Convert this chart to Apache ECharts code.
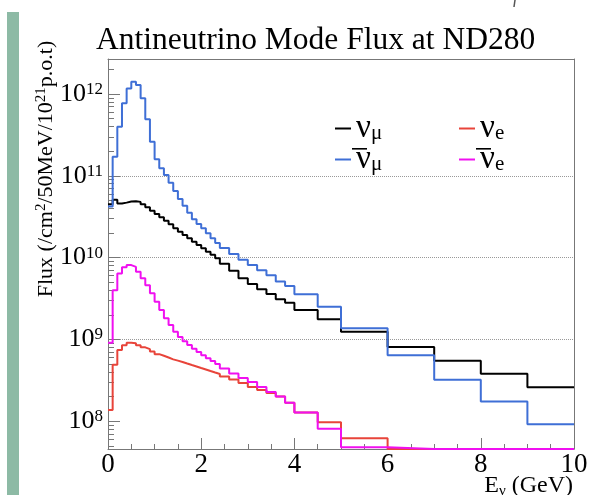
<!DOCTYPE html>
<html><head><meta charset="utf-8">
<script src="https://cdn.jsdelivr.net/npm/echarts@6/dist/echarts.min.js"></script>
<style>html,body{margin:0;padding:0;background:#fff}#c{width:591px;height:495px}</style>
</head><body><div id="c"></div>
<script>
// Bin edges in GeV
const binEdges = [0,0.1,0.2,0.3,0.4,0.5,0.6,0.7,0.8,0.9,1.0,1.1,1.2,1.3,1.4,1.5,1.6,1.7,1.8,1.9,2.0,2.1,2.2,2.3,2.4,
  2.6,2.8,3.0,3.2,3.4,3.6,3.8,4.0,4.5,5,6,7,8,9,10];
// Flux values per bin (/cm^2/50MeV/1e21 p.o.t)
const numuFlux = [4.5e10,5.1e10,4.6e10,4.7e10,4.85e10,4.9e10,4.8e10,4.5e10,4.12e10,3.74e10,3.41e10,3.11e10,2.83e10,2.55e10,2.28e10,
  2.07e10,1.89e10,1.72e10,1.56e10,1.43e10,1.30e10,1.18e10,1.08e10,9.8e9,8.4e9,6.9e9,5.6e9,4.75e9,4.1e9,3.6e9,3.1e9,2.8e9,
  2.29e9,1.76e9,1.24e9,8.1e8,5.5e8,3.8e8,2.6e8];
const antiNumuFlux = [4.2e10,1.71e11,3.98e11,7.7e11,1.17e12,1.41e12,1.29e12,8.9e11,4.9e11,2.61e11,1.59e11,1.24e11,1.02e11,8.2e10,6.5e10,
  5.2e10,4.3e10,3.54e10,2.94e10,2.58e10,2.28e10,1.98e10,1.72e10,1.51e10,1.31e10,1.11e10,9.4e9,8.1e9,7.0e9,6.1e9,5.1e9,4.5e9,
  3.56e9,2.5e9,1.37e9,6.4e8,3.2e8,1.74e8,9.2e7];
const nueFlux = [1.37e8,4.9e8,7.4e8,8.5e8,9.1e8,9.0e8,8.5e8,8.0e8,7.6e8,7.1e8,6.6e8,6.3e8,6.0e8,5.7e8,5.5e8,
  5.3e8,5.07e8,4.86e8,4.67e8,4.47e8,4.29e8,4.11e8,3.94e8,3.78e8,3.52e8,3.24e8,2.93e8,2.62e8,2.40e8,2.21e8,2.0e8,1.68e8,
  1.28e8,9.7e7,6.2e7,0,0,0,0];
const antiNueFlux = [9.1e8,4.0e9,6.4e9,7.6e9,8.1e9,7.7e9,6.7e9,5.6e9,4.6e9,3.66e9,2.89e9,2.29e9,1.81e9,1.50e9,1.24e9,
  1.07e9,9.5e8,8.55e8,7.7e8,7.0e8,6.4e8,5.9e8,5.45e8,5.0e8,4.4e8,3.83e8,3.37e8,3.01e8,2.62e8,2.27e8,2.0e8,1.68e8,
  1.28e8,8.1e7,4.8e7,0,0,0,0];
// Axis tick values
const xTickLabels = [0,2,4,6,8,10];
const yDecades = [1e8,1e9,1e10,1e11,1e12];
const seriesNames = ['numu','antinumu','nue','antinue'];

const FONT = 'Liberation Serif';
const yMin = 4.57e7, yMax = 2.68e12;
const yMinor = [];
[1e7,1e8,1e9,1e10,1e11,1e12].forEach(d => { for (let k = 2; k <= 9; k++) { const v = d * k; if (v > yMin && v < yMax) yMinor.push(v); } });

function steps(vals) {
  const pts = vals.map((v, i) => [binEdges[i], v > 0 ? v : yMin]);
  pts.push([binEdges[binEdges.length - 1], pts[pts.length - 1][1]]);
  return pts;
}
const legendText = {
  numu: '{n|\u03BD}{s|\u03BC}',
  antinumu: '{n|\u03BD}{s|\u03BC}',
  nue: '{n|\u03BD}{s|e}',
  antinue: '{n|\u03BD}{s|e}'
};
const legendRich = {
  n: {fontFamily: FONT, fontSize: 33, lineHeight: 30, color: '#000'},
  s: {fontFamily: FONT, fontSize: 21, lineHeight: 19, verticalAlign: 'bottom', color: '#000'}
};
const colors = {numu: '#000000', antinumu: '#3f6fd6', nue: '#e8443a', antinue: '#f010f0'};
const fluxes = {numu: numuFlux, antinumu: antiNumuFlux, nue: nueFlux, antinue: antiNueFlux};

const chart = echarts.init(document.getElementById('c'), null, {renderer: 'canvas', width: 591, height: 495});
const axisGray = '#777';
chart.setOption({
  animation: false,
  backgroundColor: '#fff',
  title: {
    text: 'Antineutrino Mode Flux at ND280', left: 91, top: 20,
    textStyle: {fontFamily: FONT, fontSize: 31.5, fontWeight: 'normal', color: '#000'}
  },
  grid: {left: 108, right: 17, top: 59, bottom: 46, containLabel: false},
  xAxis: [{
    type: 'value', min: 0, max: 10, interval: 2,
    axisLine: {show: true, onZero: false, lineStyle: {color: axisGray, width: 1}},
    axisTick: {show: true, inside: true, length: 11, lineStyle: {color: axisGray}},
    minorTick: {show: true, splitNumber: 4, length: 5, lineStyle: {color: axisGray}},
    axisLabel: {fontFamily: FONT, fontSize: 27, color: '#000', margin: 2,
      formatter: v => xTickLabels.indexOf(v) >= 0 ? String(v) : ''},
    splitLine: {show: false}
  }, {
    type: 'value', min: 0, max: 10, position: 'top',
    axisLine: {show: true, onZero: false, lineStyle: {color: axisGray, width: 1}},
    axisTick: {show: false}, axisLabel: {show: false}, splitLine: {show: false}
  }],
  yAxis: [{
    type: 'log', logBase: 10, min: yMin, max: yMax,
    axisLine: {show: true, onZero: false, lineStyle: {color: axisGray, width: 1}},
    axisTick: {show: true, inside: true, length: 12, customValues: yDecades, lineStyle: {color: axisGray}},
    axisLabel: {
      customValues: yDecades, margin: 5,
      formatter: v => '{b|10}{s|' + Math.round(Math.log10(v)) + '}',
      rich: {
        b: {fontFamily: FONT, fontSize: 26, lineHeight: 26, color: '#000'},
        s: {fontFamily: FONT, fontSize: 17, lineHeight: 16, verticalAlign: 'top', color: '#000'}
      }
    },
    splitLine: {show: true, showMinLine: false, showMaxLine: false, lineStyle: {type: 'dotted', color: '#999', width: 1}}
  }, {
    type: 'log', logBase: 10, min: yMin, max: yMax, position: 'left',
    axisLine: {show: false},
    axisTick: {show: true, inside: true, length: 6, customValues: yMinor, lineStyle: {color: axisGray}},
    axisLabel: {show: false}, splitLine: {show: false}
  }, {
    type: 'log', logBase: 10, min: yMin, max: yMax, position: 'right',
    axisLine: {show: true, onZero: false, lineStyle: {color: axisGray, width: 1}},
    axisTick: {show: false}, axisLabel: {show: false}, splitLine: {show: false}
  }],
  legend: [{
    data: ['numu', 'antinumu'], left: 330, top: 107, orient: 'vertical',
    icon: 'rect', itemWidth: 16, itemHeight: 2, itemGap: -2,
    formatter: name => legendText[name], textStyle: {rich: legendRich}
  }, {
    data: ['nue', 'antinue'], left: 454, top: 107, orient: 'vertical',
    icon: 'rect', itemWidth: 16, itemHeight: 2, itemGap: -2,
    formatter: name => legendText[name], textStyle: {rich: legendRich}
  }],
  graphic: [
    {type: 'rect', shape: {x: 7, y: 12, width: 12, height: 483}, style: {fill: '#8dbaa5'}, z: 0},
    {type: 'line', shape: {x1: 515, y1: 0, x2: 514, y2: 7}, style: {stroke: '#555', lineWidth: 1.5}},
    // overbars of the antineutrino legend symbols
    {type: 'rect', shape: {x: 352, y: 148, width: 15, height: 1.6}, style: {fill: '#000'}},
    {type: 'rect', shape: {x: 476, y: 148, width: 15, height: 1.6}, style: {fill: '#000'}},
    {type: 'text', x: 46, y: 169, rotation: Math.PI / 2,
      style: {text: '{m|Flux (/cm}{s|2}{m|/50MeV/10}{s|21}{m|p.o.t)}', align: 'center', verticalAlign: 'middle',
        textAlign: 'center', textVerticalAlign: 'middle',
        rich: {m: {fontFamily: FONT, fontSize: 22, lineHeight: 24, fill: '#000', color: '#000'},
               s: {fontFamily: FONT, fontSize: 15, lineHeight: 15, verticalAlign: 'top', fill: '#000', color: '#000'}}}},
    {type: 'text', right: 18, top: 474,
      style: {text: '{m|E}{s|\u03BD}{m| (GeV)}', rich: {m: {fontFamily: FONT, fontSize: 24, lineHeight: 26, fill: '#000', color: '#000'},
        s: {fontFamily: FONT, fontSize: 15, lineHeight: 15, verticalAlign: 'bottom', fill: '#000', color: '#000'}}}}
  ],
  series: seriesNames.map(name => ({
    name: name, type: 'line', step: 'end', data: steps(fluxes[name]),
    xAxisIndex: 0, yAxisIndex: 0, showSymbol: false, symbol: 'none', clip: true,
    color: colors[name], lineStyle: {color: colors[name], width: 2}
  }))
});
</script>
</body></html>
